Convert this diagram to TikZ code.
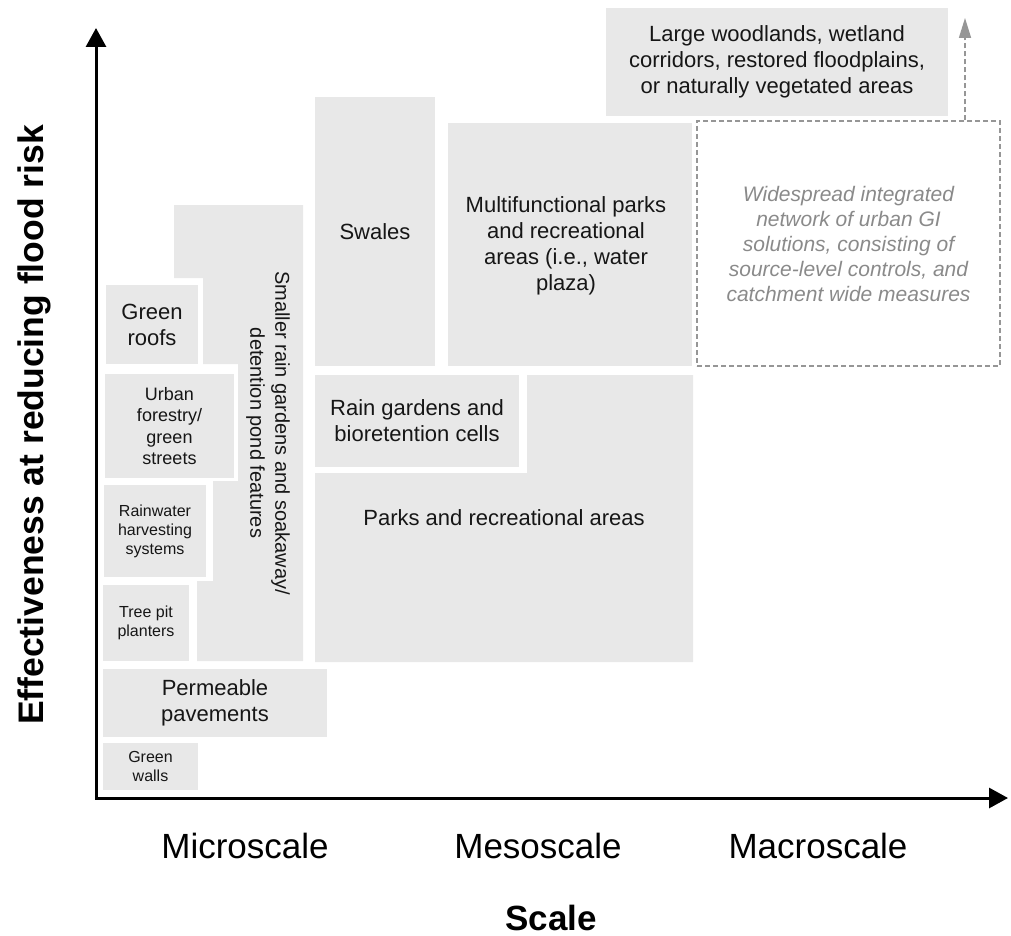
\documentclass[tikz,border=0pt]{standalone}
\usepackage{fontspec}
\setmainfont{Liberation Sans}
\usetikzlibrary{arrows.meta}
\definecolor{boxgray}{RGB}{232,232,232}
\definecolor{txt}{RGB}{22,22,22}
\definecolor{dashgray}{RGB}{150,150,150}
\definecolor{itgray}{RGB}{138,138,138}
\newcommand\szL{\fontsize{22}{26}\selectfont}
\newcommand\szR{\fontsize{20}{25}\selectfont}
\newcommand\szM{\fontsize{18}{21.5}\selectfont}
\newcommand\szS{\fontsize{16}{19}\selectfont}
\newcommand\szAx{\fontsize{35}{40}\selectfont}
\tikzset{
  box/.style={fill=boxgray, inner sep=0pt, align=center, text=txt},
  lbl/.style={inner sep=0pt, align=center, text=txt},
  dashedbox/.style={draw=dashgray, dash pattern=on 5pt off 3pt, line width=1.3pt, inner sep=0pt, align=center, text=itgray, font=\fontsize{21}{25}\selectfont\itshape},
  axis/.style={line width=3pt, black},
  dasharrow/.style={draw=dashgray, dash pattern=on 5pt off 3pt, line width=1.6pt, -{Triangle[length=20pt,width=12pt,fill=dashgray]}},
  axlabel/.style={inner sep=0pt, text=black, font=\szAx},
}
\begin{document}
\begin{tikzpicture}[x=1pt,y=-1pt]
\useasboundingbox (0,0) rectangle (1011,936);
% L-shaped regions
\fill[boxgray] (174,205) -- (303,205) -- (303,661) -- (197,661) -- (197,581) -- (213,581) -- (213,481) -- (238,481) -- (238,364) -- (203,364) -- (203,278) -- (174,278) -- cycle;
\fill[boxgray] (315,473) -- (527,473) -- (527,375) -- (693,375) -- (693,662) -- (315,662) -- cycle;
% rectangular boxes
\node[box, font=\szL, minimum width=92, minimum height=79] (roofs) at (152,324.5) {Green\\roofs};
\node[box, font=\szM, minimum width=129, minimum height=104] (forest) at (169.5,426) {Urban\\forestry/\\green\\streets};
\node[box, font=\szS, minimum width=102, minimum height=92] (rainw) at (155,531) {Rainwater\\harvesting\\systems};
\node[box, font=\szS, minimum width=86, minimum height=76] (treepit) at (146,623) {Tree pit\\planters};
\node[box, font=\szL, minimum width=224, minimum height=68] (perm) at (215,703) {Permeable\\pavements};
\node[box, font=\szS, minimum width=95, minimum height=47] (walls) at (150.5,766.5) {Green\\walls};
\node[box, font=\szL, minimum width=120, minimum height=269] (swales) at (375,231.5) {Swales};
\node[box, font=\szL, minimum width=244, minimum height=243] (multi) at (570,244.5) {};
\node[lbl, font=\szL] (multitext) at (566,246) {Multifunctional parks\\and recreational\\areas (i.e., water\\plaza)};
\node[box, font=\szL, minimum width=204, minimum height=92] (raing) at (417,421) {Rain gardens and\\bioretention cells};
\node[box, font=\szL, minimum width=342, minimum height=108] (large) at (777,62) {Large woodlands, wetland\\corridors, restored floodplains,\\or naturally vegetated areas};
\node[dashedbox, minimum width=303, minimum height=245] (wide) at (848.5,243.5) {Widespread integrated\\network of urban GI\\solutions, consisting of\\source-level controls, and\\catchment wide measures};
% texts on L-shaped regions
\node[lbl, font=\szR, rotate=-90] (smaller) at (268,433) {Smaller rain gardens and soakaway/\\detention pond features};
\node[lbl, font=\szL] (parks) at (504,518) {Parks and recreational areas};
% dashed arrow
\coordinate (uptip) at (965,18);
\draw[dasharrow] (wide.north -| uptip) -- (uptip);
% axes
\coordinate (O) at (96,798);
\coordinate (ytip) at (96,28);
\coordinate (xtip) at (1008,798);
\draw[axis, {Triangle[length=19pt,width=20pt]}-{Triangle[length=19pt,width=20pt]}] (ytip) -- (O) -- (xtip);
% axis labels
\node[axlabel, anchor=base] (micro) at (245,858) {Microscale};
\node[axlabel, anchor=base] (meso) at (538,858) {Mesoscale};
\node[axlabel, anchor=base] (macro) at (818,858) {Macroscale};
\node[axlabel, anchor=base, font=\szAx\bfseries] (scale) at (551,930) {Scale};
\node[axlabel, anchor=base, rotate=90, font=\fontsize{35.5}{40}\selectfont\bfseries] (eff) at (43,425) {Effectiveness at reducing flood risk};
\end{tikzpicture}
\end{document}
